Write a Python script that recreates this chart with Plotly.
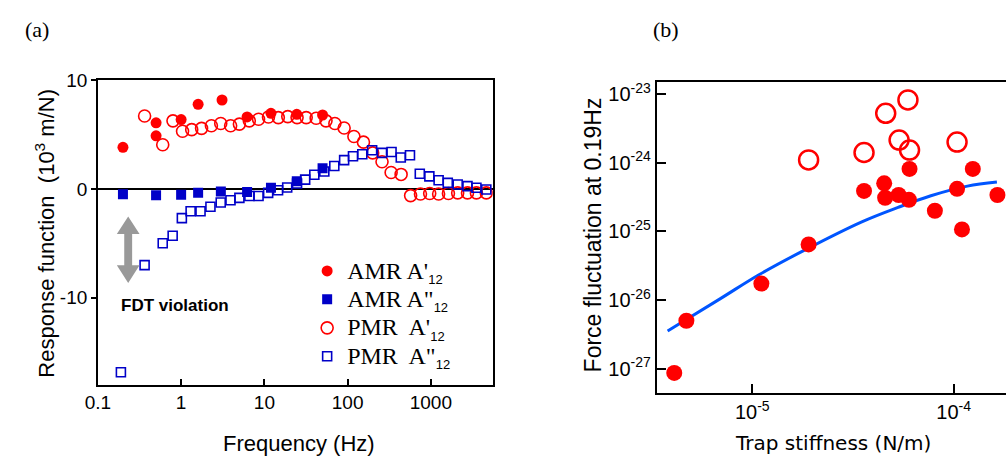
import plotly.graph_objects as go

# ---------------- Panel (a) data ----------------
amr_freq = [0.2, 0.5, 0.5, 1.0, 1.6, 3.1, 6.2, 12, 24.5, 50]
amr_real = [3.85, 6.1, 4.9, 6.4, 7.8, 8.2, 6.64, 6.97, 6.88, 6.82]

amr_imag_freq = [0.2, 0.5, 1.0, 1.6, 3.0, 6.2, 12, 24.5, 50]
amr_imag = [-0.48, -0.57, -0.51, -0.33, -0.21, -0.27, 0.12, 0.72, 1.92]

pmr_real_freq = [0.364, 0.601, 0.798, 1.04, 1.34, 1.76, 2.31, 2.99, 3.93, 5.01,
                 6.59, 8.51, 11.2, 14.7, 19.1, 24.7, 31.8, 41.9, 55.0, 70.3,
                 90.8, 119, 155, 200, 259, 333, 439, 571, 750, 968,
                 1239, 1626, 2099, 2754, 3524, 4634]
pmr_real = [6.73, 4.08, 6.28, 5.32, 5.47, 5.59, 5.83, 6.04, 5.83, 5.98,
            6.28, 6.43, 6.64, 6.58, 6.67, 6.58, 6.58, 6.52, 6.28, 6.04,
            5.62, 4.84, 4.32, 3.33, 2.52, 1.53, 1.35, -0.6, -0.45, -0.4,
            -0.45, -0.4, -0.35, -0.35, -0.35, -0.35]

pmr_imag_freq = [0.189, 0.364, 0.601, 0.791, 1.02, 1.30, 1.71, 2.25, 2.99, 3.92,
                 5.01, 6.61, 8.51, 11.1, 14.6, 18.8, 24.7, 30.9, 39.8, 52.5,
                 69.2, 90.8, 116, 150, 197, 259, 337, 435, 561, 736,
                 959, 1239, 1596, 2099, 2754, 3524, 4634]
pmr_imag = [-16.85, -7.0, -4.98, -4.29, -2.67, -2.04, -2.04, -1.62, -1.23, -1.02,
            -0.81, -0.63, -0.63, -0.35, -0.1, 0.15, 0.51, 0.87, 1.32, 1.62,
            2.13, 2.67, 3.03, 3.21, 3.57, 3.33, 3.42, 2.91, 3.12, 1.41,
            1.17, 0.81, 0.57, 0.42, 0.27, 0.12, -0.03]

freq_ticks = [0.1, 1, 10, 100, 1000]
freq_tick_labels = ["0.1", "1", "10", "100", "1000"]
resp_ticks = [-10, 0, 10]
resp_tick_labels = ["-10", "0", "10"]

legend_names = ["AMR A'", "AMR A\"", "PMR\u00a0 A'", "PMR\u00a0 A\""]
legend_sub = "12"

# ---------------- Panel (b) data ----------------
stiff_filled = [1.905e-5, 3.59e-5, 4.52e-5, 4.57e-5, 5.33e-5, 6.0e-5, 6.04e-5, 8.07e-5,
                1.04e-4, 1.10e-4, 1.245e-4, 1.65e-4, 1.11e-5, 4.71e-6, 4.10e-6]
force_filled = [6.46e-26, 3.89e-25, 5.01e-25, 3.09e-25, 3.39e-25, 2.88e-25, 8.13e-25, 2.0e-25,
                4.17e-25, 1.07e-25, 8.13e-25, 3.39e-25, 1.74e-26, 5.0e-27, 8.7e-28]

stiff_open = [1.905e-5, 3.59e-5, 4.60e-5, 5.93e-5, 5.36e-5, 6.04e-5, 1.04e-4]
force_open = [1.10e-24, 1.41e-24, 5.25e-24, 8.22e-24, 2.14e-24, 1.53e-24, 2.0e-24]

stiff_curve = [3.80e-6, 6.95e-6, 1.08e-5, 1.88e-5, 3.50e-5, 5.30e-5, 7.71e-5, 1.17e-4, 1.64e-4]
force_curve = [3.55e-27, 1.05e-26, 2.34e-26, 5.62e-26, 1.38e-25, 2.24e-25, 3.31e-25, 4.57e-25, 5.25e-25]

stiff_ticks = [1e-5, 1e-4]
stiff_tick_labels = ["10<sup>-5</sup>", "10<sup>-4</sup>"]
force_ticks = [1e-27, 1e-26, 1e-25, 1e-24, 1e-23]
force_tick_labels = ["10<sup>-27</sup>", "10<sup>-26</sup>", "10<sup>-25</sup>",
                     "10<sup>-24</sup>", "10<sup>-23</sup>"]

RED = "#ff0000"
BLUE = "#0000c8"
SANS = "Liberation Sans, Arial, sans-serif"
SERIF = "Liberation Serif, Times New Roman, serif"
W, H = 1006, 461


def legend_label(name):
    return (f'<span style="font-size:24px">{name}'
            f'<sub><span style="font-family:Liberation Sans, Arial;font-size:13px">{legend_sub}</span></sub></span>')


fig = go.Figure()

# Panel (a) traces (PMR drawn first, AMR on top)
fig.add_trace(go.Scatter(x=pmr_real_freq, y=pmr_real, mode="markers", name=legend_label(legend_names[2]),
                         legendrank=3,
                         marker=dict(symbol="circle-open", size=12, color=RED, line=dict(width=1.6, color=RED)),
                         xaxis="x", yaxis="y"))
fig.add_trace(go.Scatter(x=pmr_imag_freq, y=pmr_imag, mode="markers", name=legend_label(legend_names[3]),
                         legendrank=4,
                         marker=dict(symbol="square-open", size=9, color=BLUE, line=dict(width=1.6, color=BLUE)),
                         xaxis="x", yaxis="y"))
fig.add_trace(go.Scatter(x=amr_freq, y=amr_real, mode="markers", name=legend_label(legend_names[0]),
                         legendrank=1,
                         marker=dict(symbol="circle", size=11, color=RED),
                         xaxis="x", yaxis="y"))
fig.add_trace(go.Scatter(x=amr_imag_freq, y=amr_imag, mode="markers", name=legend_label(legend_names[1]),
                         legendrank=2,
                         marker=dict(symbol="square", size=10, color=BLUE),
                         xaxis="x", yaxis="y"))

# Panel (b) traces
fig.add_trace(go.Scatter(x=stiff_curve, y=force_curve, mode="lines", showlegend=False,
                         line=dict(color="#0055ff", width=3, shape="spline", smoothing=1.0),
                         xaxis="x2", yaxis="y2"))
fig.add_trace(go.Scatter(x=stiff_open, y=force_open, mode="markers", showlegend=False,
                         marker=dict(symbol="circle-open", size=19, color=RED, line=dict(width=2.5, color=RED)),
                         xaxis="x2", yaxis="y2"))
fig.add_trace(go.Scatter(x=stiff_filled, y=force_filled, mode="markers", showlegend=False,
                         marker=dict(symbol="circle", size=16, color=RED),
                         xaxis="x2", yaxis="y2"))

axis_common = dict(showgrid=False, showline=True, linecolor="black", linewidth=1.5,
                   tickcolor="black", tickwidth=1.5, zeroline=False)

fig.update_layout(
    width=W, height=H,
    margin=dict(l=0, r=0, t=0, b=0),
    paper_bgcolor="white", plot_bgcolor="white",
    font=dict(family=SANS, color="black", size=19),
    xaxis=dict(axis_common, type="log", domain=[86 / W, 486 / W], range=[-1, 3.743],
               tickvals=freq_ticks, ticktext=freq_tick_labels, ticks="inside", ticklen=6,
               mirror=True, tickfont=dict(size=19, family=SANS), anchor="y"),
    yaxis=dict(axis_common, domain=[(H - 383) / H, (H - 72) / H], range=[-18, 10],
               tickvals=resp_ticks, ticktext=resp_tick_labels, ticks="outside", ticklen=5,
               mirror=True, zeroline=True, zerolinecolor="black", zerolinewidth=1.5,
               tickfont=dict(size=19, family=SANS), anchor="x"),
    xaxis2=dict(axis_common, type="log", domain=[652 / W, 1.0], range=[-5.475, -3.74],
                tickvals=stiff_ticks, ticktext=stiff_tick_labels, ticks="inside", ticklen=10,
                mirror=True, tickfont=dict(size=20, family=SANS), anchor="y2"),
    yaxis2=dict(axis_common, type="log", domain=[(H - 392) / H, (H - 74) / H], range=[-27.36, -22.83],
                tickvals=force_ticks, ticktext=force_tick_labels, ticks="inside", ticklen=10,
                mirror=False, tickfont=dict(size=20, family=SANS), anchor="x2"),
    legend=dict(x=298 / W, y=1 - 247 / H, xanchor="left", yanchor="top",
                bgcolor="rgba(0,0,0,0)", font=dict(family=SERIF, size=19.6, color="black"),
                traceorder="normal"),
    showlegend=True,
)

annotations = [
    dict(text="(a)", x=24 / W, y=1 - 20 / H, font=dict(family=SERIF, size=22)),
    dict(text="(b)", x=662 / W, y=1 - 20 / H, font=dict(family=SERIF, size=22)),
    dict(text="Response function  (10<sup>3</sup> m/N)", x=32 / W, y=1 - 228 / H, textangle=-90,
         font=dict(family=SANS, size=22)),
    dict(text="Frequency (Hz)", x=290 / W, y=1 - 443 / H, font=dict(family=SANS, size=22)),
    dict(text="<b>FDT violation</b>", x=164 / W, y=1 - 302 / H, font=dict(family=SANS, size=17)),
    dict(text="Force fluctuation at 0.19Hz", x=588 / W, y=1 - 230 / H, textangle=-90,
         font=dict(family=SANS, size=23)),
    dict(text="Trap stiffness (N/m)", x=831 / W, y=1 - 443 / H, font=dict(family="DejaVu Sans, sans-serif", size=20)),
]
for a in annotations:
    a.update(xref="paper", yref="paper", showarrow=False, xanchor="center", yanchor="middle")
fig.update_layout(annotations=annotations)

# Gray double-headed arrow (decoration) in pixel-derived paper coordinates
cx, top, bot, hl, hw, sw = 116.7, 211, 279, 18, 11.5, 4
pts = [(cx, top), (cx + hw, top + hl), (cx + sw, top + hl), (cx + sw, bot - hl), (cx + hw, bot - hl),
       (cx, bot), (cx - hw, bot - hl), (cx - sw, bot - hl), (cx - sw, top + hl), (cx - hw, top + hl)]
path = "M " + " L ".join(f"{px / W:.5f},{1 - py / H:.5f}" for px, py in pts) + " Z"
fig.add_shape(type="path", path=path, xref="paper", yref="paper",
              fillcolor="#999999", line=dict(width=0))

fig.write_html(
    "out.html",
    config={"displayModeBar": False},
    post_script="document.body.style.margin='0px';document.body.style.padding='0px';"
                "document.documentElement.style.overflow='hidden';",
)
